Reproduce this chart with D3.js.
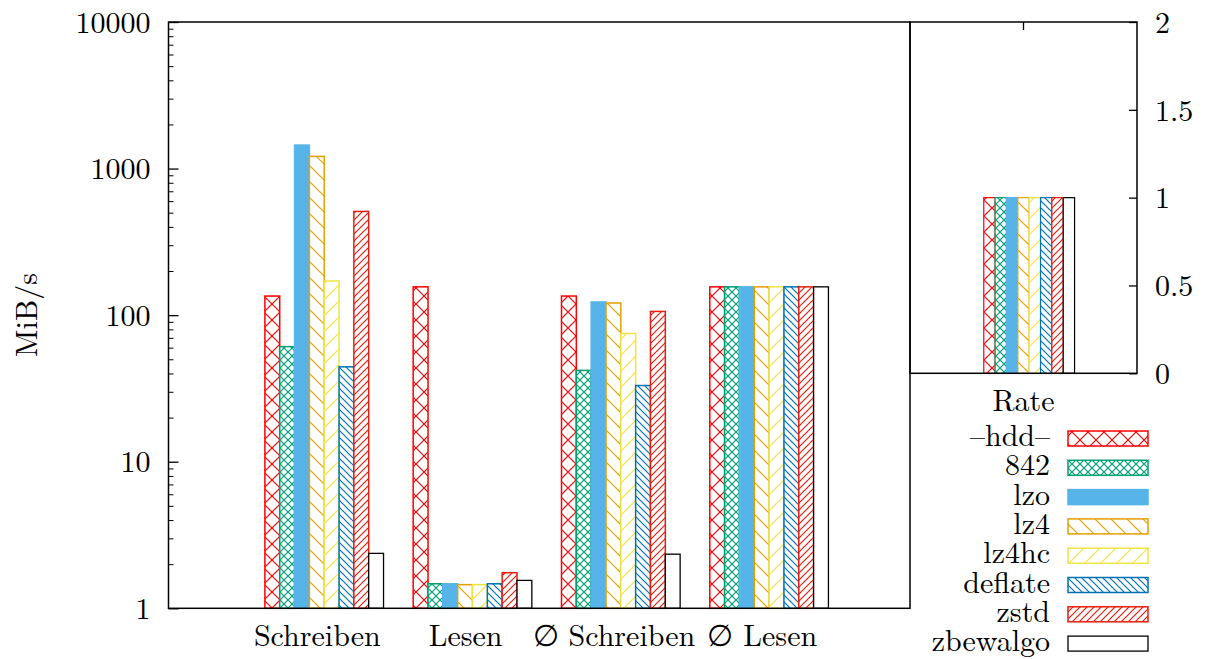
<!DOCTYPE html>
<html>
<head>
<meta charset="utf-8">
<script src="https://cdn.jsdelivr.net/npm/d3@7"></script>
<style>
  body { margin: 0; background: #fff; }
  svg text { font-family: 'Latin Modern Roman', 'Liberation Serif', serif; font-size: 30px; fill: #000; }
</style>
</head>
<body>
<svg id="chart" width="1207" height="659"></svg>
<script>
// categories and values
var groups = ['Schreiben', 'Lesen', '\u2205 Schreiben', '\u2205 Lesen'];
var algos = ['\u2013hdd\u2013', '842', 'lzo', 'lz4', 'lz4hc', 'deflate', 'zstd', 'zbewalgo'];
var hddVals = [135, 156, 135, 156];
var v842Vals = [61, 1.47, 42, 156];
var lzoVals = [1446, 1.47, 123, 156];
var lz4Vals = [1211, 1.45, 121, 156];
var lz4hcVals = [171, 1.45, 75, 156];
var deflateVals = [44.4, 1.47, 33.1, 156];
var zstdVals = [510, 1.75, 106, 156];
var zbewalgoVals = [2.37, 1.55, 2.34, 156];
var rateVals = [1, 1, 1, 1, 1, 1, 1, 1];
var rateLabel = 'Rate';
var yTicksLeft = [1, 10, 100, 1000, 10000];
var yTicksRight = [0, 0.5, 1, 1.5, 2];

var series = [hddVals, v842Vals, lzoVals, lz4Vals, lz4hcVals, deflateVals, zstdVals, zbewalgoVals];

// styles per algorithm
var colors = ['#ff0000', '#009e73', '#56b4e9', '#e69f00', '#f0e442', '#0072b2', '#e51e10', '#000000'];
var patternIds = ['p-cross', 'p-dcross', null, 'p-back', 'p-fwd', 'p-dback', 'p-dfwd', 'p-empty'];

var FONT = "'Latin Modern Roman', 'Liberation Serif', serif";
var svg = d3.select('#chart');
var left = { x0: 168.5, x1: 910, y0: 22, y1: 608.3 };
var right = { x0: 910, x1: 1137, y0: 22, y1: 373.3 };
var barW = 0.1;       // bar width in x units
var clusterStart = -0.35;

function makePatterns()
{
    var defs = svg.append('defs');
    function pat(id, size, d, color) {
        var p = defs.append('pattern')
            .attr('id', id)
            .attr('patternUnits', 'userSpaceOnUse')
            .attr('width', size).attr('height', size);
        p.append('rect').attr('width', size).attr('height', size).attr('fill', '#fff');
        if (d) {
            p.append('path').attr('d', d)
                .attr('stroke', color).attr('stroke-width', 1.2).attr('fill', 'none');
        }
    }
    function cross(s) {
        return 'M0,0L' + s + ',' + s + 'M0,' + s + 'L' + s + ',0';
    }
    function back(s) {
        return 'M0,0L' + s + ',' + s + 'M-1,' + (s - 1) + 'L1,' + (s + 1) + 'M' + (s - 1) + ',-1L' + (s + 1) + ',1';
    }
    function fwd(s) {
        return 'M0,' + s + 'L' + s + ',0M-1,1L1,-1M' + (s - 1) + ',' + (s + 1) + 'L' + (s + 1) + ',' + (s - 1);
    }
    pat('p-cross', 16, cross(16), colors[0]);
    pat('p-dcross', 8, cross(8), colors[1]);
    pat('p-back', 16, back(16), colors[3]);
    pat('p-fwd', 16, fwd(16), colors[4]);
    pat('p-dback', 7, back(7), colors[5]);
    pat('p-dfwd', 7, fwd(7), colors[6]);
    pat('p-empty', 10, null, '#000');
}

function fillOf(i) {
    return patternIds[i] ? 'url(#' + patternIds[i] + ')' : colors[i];
}

function styleText(sel, size) {
    sel.attr('font-family', FONT).attr('font-size', size);
    sel.selectAll('text').style('font-family', FONT).style('font-size', size + 'px');
}

function drawLeft()
{
    var x = d3.scaleLinear().domain([-1, 4]).range([left.x0, left.x1]);
    var y = d3.scaleLog().domain([1, 10000]).range([left.y1, left.y0]);

    var g = svg.append('g');
    series.forEach(function(vals, i) {
        g.selectAll('.bar' + i)
            .data(vals)
            .enter().append('rect')
            .attr('x', function(d, k) { return x(k + clusterStart + i * barW); })
            .attr('width', x(barW) - x(0))
            .attr('y', function(d) { return y(d); })
            .attr('height', function(d) { return y(1) - y(d); })
            .attr('fill', fillOf(i))
            .attr('stroke', colors[i])
            .attr('stroke-width', i == 7 ? 1.3 : 1.5);
    });

    // minor ticks
    var minor = [];
    for (var e = 1; e < 10000; e *= 10)
        for (var m = 2; m < 10; m++) minor.push(e * m);
    svg.append('g')
        .attr('transform', 'translate(' + left.x0 + ',0)')
        .call(d3.axisLeft(y).tickValues(minor).tickSize(-5).tickFormat(''))
        .call(function(a) { a.select('.domain').remove(); });

    var yAxis_g = svg.append('g')
        .attr('transform', 'translate(' + left.x0 + ',0)')
        .call(d3.axisLeft(y).tickValues(yTicksLeft).tickSize(-10).tickPadding(18)
            .tickFormat(d3.format('d')));
    yAxis_g.select('.domain').remove();
    yAxis_g.selectAll('line').attr('stroke-width', 1.3);
    styleText(yAxis_g, 30);
    yAxis_g.selectAll('text').attr('dy', '0.34em');

    var xAxis_g = svg.append('g')
        .attr('transform', 'translate(0,' + left.y1 + ')')
        .call(d3.axisBottom(x).tickValues([0, 1, 2, 3]).tickSize(0).tickPadding(16)
            .tickFormat(function(d) { return groups[d]; }));
    xAxis_g.select('.domain').remove();
    styleText(xAxis_g, 30);

    svg.append('rect')
        .attr('x', left.x0).attr('y', left.y0)
        .attr('width', left.x1 - left.x0).attr('height', left.y1 - left.y0)
        .attr('fill', 'none').attr('stroke', '#000').attr('stroke-width', 1.5);

    svg.append('text')
        .attr('transform', 'translate(37,315) rotate(-90)')
        .attr('text-anchor', 'middle')
        .style('font-family', FONT)
        .text('MiB/s');
}

function drawRight()
{
    var x = d3.scaleLinear().domain([-1, 1]).range([right.x0, right.x1]);
    var y = d3.scaleLinear().domain([0, 2]).range([right.y1, right.y0]);

    svg.append('g').selectAll('rect')
        .data(rateVals)
        .enter().append('rect')
        .attr('x', function(d, i) { return x(clusterStart + i * barW); })
        .attr('width', x(barW) - x(0))
        .attr('y', function(d) { return y(d); })
        .attr('height', function(d) { return y(0) - y(d); })
        .attr('fill', function(d, i) { return fillOf(i); })
        .attr('stroke', function(d, i) { return colors[i]; })
        .attr('stroke-width', 1.2);

    var yAxis_g = svg.append('g')
        .attr('transform', 'translate(' + right.x1 + ',0)')
        .call(d3.axisRight(y).tickValues(yTicksRight).tickSize(-8).tickPadding(18)
            .tickFormat(function(d) { return d; }));
    yAxis_g.select('.domain').remove();
    yAxis_g.selectAll('line').attr('stroke-width', 1.3);
    styleText(yAxis_g, 30);
    yAxis_g.selectAll('text').attr('dy', '0.34em');

    // mirrored x tick at top
    svg.append('line')
        .attr('x1', x(0)).attr('x2', x(0))
        .attr('y1', right.y0).attr('y2', right.y0 + 8)
        .attr('stroke', '#000').attr('stroke-width', 1.3);

    svg.append('text')
        .attr('x', x(0)).attr('y', 411)
        .attr('text-anchor', 'middle')
        .style('font-family', FONT)
        .text(rateLabel);

    svg.append('rect')
        .attr('x', right.x0).attr('y', right.y0)
        .attr('width', right.x1 - right.x0).attr('height', right.y1 - right.y0)
        .attr('fill', 'none').attr('stroke', '#000').attr('stroke-width', 1.5);
}

function drawLegend()
{
    var rowY = d3.scaleLinear().domain([0, 1]).range([431, 460.3]);
    var lg = svg.append('g');
    algos.forEach(function(name, i) {
        lg.append('rect')
            .attr('x', 1068).attr('y', rowY(i))
            .attr('width', 80).attr('height', 15)
            .attr('fill', fillOf(i))
            .attr('stroke', colors[i])
            .attr('stroke-width', i == 7 ? 1.3 : 1.5);
        lg.append('text')
            .attr('x', 1050).attr('y', rowY(i) + 15)
            .attr('text-anchor', 'end')
            .style('font-family', FONT)
            .style('font-size', '30px')
            .text(name);
    });
}

makePatterns();
drawLeft();
drawRight();
drawLegend();
</script>
</body>
</html>
